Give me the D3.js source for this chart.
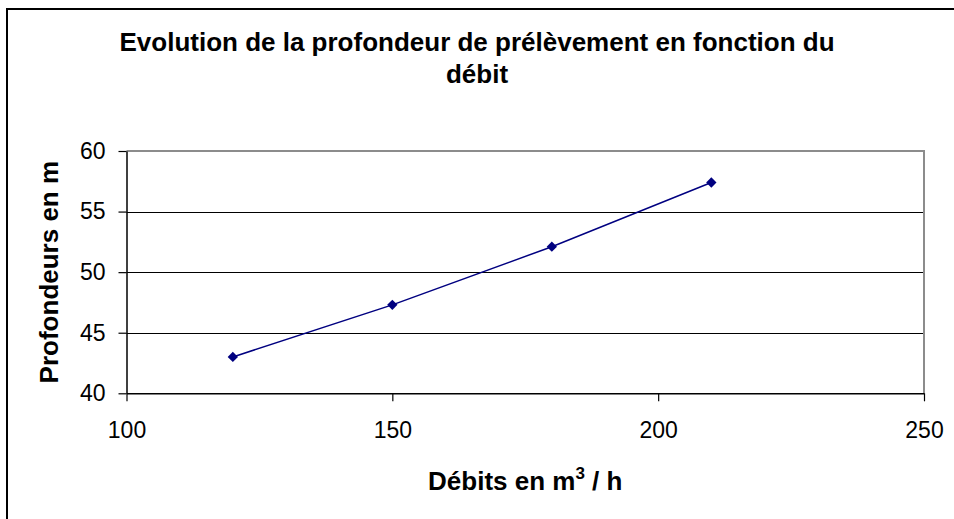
<!DOCTYPE html>
<html>
<head>
<meta charset="UTF-8">
<title>Profondeur de prélèvement</title>
<script src="https://d3js.org/d3.v7.min.js"></script>
<style>
  body { margin: 0; background: #fff; }
  text { font-family: "Liberation Sans", Arial, sans-serif; fill: #000; }
</style>
</head>
<body>
<div id="chart"></div>
<script>
(function(d3) {

  // data
  var debits = [120, 150, 180, 210];
  var profondeurs = [43, 47.3, 52.1, 57.4];
  var xTicks = [100, 150, 200, 250];
  var yTicks = [40, 45, 50, 55, 60];
  var titleLines = ['Evolution de la profondeur de prélèvement en fonction du', 'débit'];

  var width = 954, height = 519;
  var plot = { left: 126.5, right: 924, top: 151, bottom: 393.3 };

  var svg = d3.select('#chart').append('svg')
      .attr('width', width)
      .attr('height', height);

  // outer chart frame (only top and left show in the picture)
  svg.append('path')
      .attr('d', 'M7,' + height + 'V9H' + width)
      .attr('fill', 'none')
      .attr('stroke', '#000')
      .attr('stroke-width', 2);

  var x = d3.scaleLinear().domain([100, 250]).range([plot.left, plot.right]);
  var y = d3.scaleLinear().domain([40, 60]).range([plot.bottom, plot.top]);

  // gridlines
  svg.append('g')
    .selectAll('line')
    .data(yTicks.filter(function(d) { return d > 40 && d < 60; }))
    .enter().append('line')
      .attr('x1', plot.left).attr('x2', plot.right)
      .attr('y1', function(d) { return Math.round(y(d)) + 0.5; })
      .attr('y2', function(d) { return Math.round(y(d)) + 0.5; })
      .attr('stroke', '#000')
      .attr('stroke-width', 1);

  // plot area border top / right (grey)
  svg.append('path')
      .attr('d', 'M' + plot.left + ',' + plot.top + 'H' + plot.right + 'V' + plot.bottom)
      .attr('fill', 'none')
      .attr('stroke', '#8c8c8c')
      .attr('stroke-width', 2);

  // axes
  var xAxis = svg.append('g')
      .attr('transform', 'translate(0,' + plot.bottom + ')')
      .call(d3.axisBottom(x).tickValues(xTicks).tickSizeInner(8).tickSizeOuter(0).tickPadding(20));
  var yAxis = svg.append('g')
      .attr('transform', 'translate(' + plot.left + ',0)')
      .call(d3.axisLeft(y).tickValues(yTicks).tickSizeInner(8).tickSizeOuter(0).tickPadding(13));

  [xAxis, yAxis].forEach(function(ax) {
    ax.select('.domain').attr('stroke', '#000').attr('stroke-width', 1.5);
    ax.selectAll('.tick line').attr('stroke', '#000').attr('stroke-width', 1.2);
    ax.selectAll('.tick text')
      .style('font-family', '"Liberation Sans", Arial, sans-serif')
      .style('font-size', '23px')
      .attr('fill', '#000');
  });

  // series line
  var pts = debits.map(function(d, i) { return [d, profondeurs[i]]; });
  var line = d3.line()
      .x(function(d) { return x(d[0]); })
      .y(function(d) { return y(d[1]); });

  svg.append('path')
      .datum(pts)
      .attr('d', line)
      .attr('fill', 'none')
      .attr('stroke', '#000080')
      .attr('stroke-width', 1.5);

  svg.append('g')
    .selectAll('path')
    .data(pts)
    .enter().append('path')
      .attr('d', d3.symbol().type(d3.symbolDiamond2).size(68))
      .attr('transform', function(d) { return 'translate(' + x(d[0]) + ',' + y(d[1]) + ')'; })
      .attr('fill', '#000080');

  // title
  svg.append('text')
      .attr('x', 477)
      .attr('y', 51)
      .attr('text-anchor', 'middle')
      .style('font-size', '26px')
      .style('font-weight', 'bold')
    .selectAll('tspan')
    .data(titleLines)
    .enter().append('tspan')
      .attr('x', 477)
      .attr('dy', function(d, i) { return i ? 32 : 0; })
      .text(function(d) { return d; });

  // x axis title
  var xt = svg.append('text')
      .attr('x', (plot.left + plot.right) / 2)
      .attr('y', 490)
      .attr('text-anchor', 'middle')
      .style('font-size', '26px')
      .style('font-weight', 'bold');
  xt.append('tspan').text('Débits en m');
  xt.append('tspan').attr('dy', -11).style('font-size', '17px').text('3');
  xt.append('tspan').attr('dy', 11).text(' / h');

  // y axis title
  svg.append('text')
      .attr('transform', 'translate(58,' + ((plot.top + plot.bottom) / 2) + ') rotate(-90)')
      .attr('text-anchor', 'middle')
      .style('font-size', '26px')
      .style('font-weight', 'bold')
      .text('Profondeurs en m');

})(window.d3);
</script>
</body>
</html>
